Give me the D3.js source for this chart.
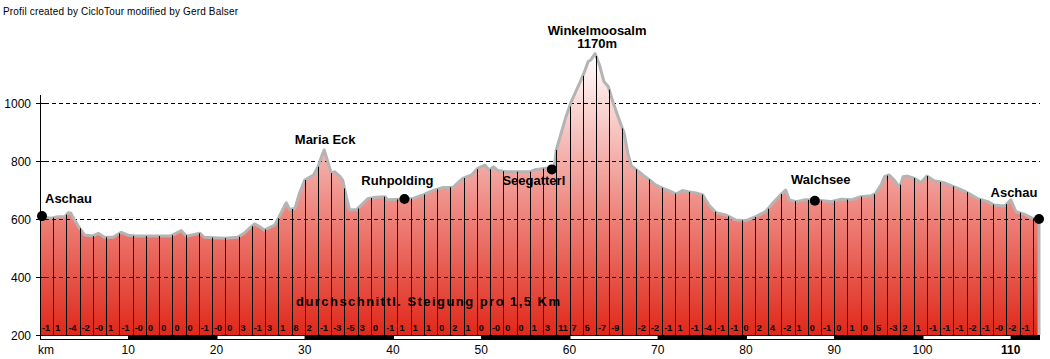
<!DOCTYPE html>
<html><head><meta charset="utf-8">
<script src="https://cdn.jsdelivr.net/npm/d3@7"></script>
<style>
html,body{margin:0;padding:0;background:#fff;}
svg{display:block;font-family:Arial,"Liberation Sans",sans-serif;}
</style></head>
<body><svg id="c" width="1050" height="359"></svg>
<script>
// ---- data ----
const profileKm = [0,0.5,1.25,2.0,2.8,3.2,3.5,3.9,4.5,5.05,6.0,6.6,7.3,8.3,9.2,10.0,10.7,14.8,16.0,16.6,18.1,18.6,20.9,22.4,23.2,24.3,24.9,25.4,26.6,27.1,27.9,28.3,28.9,29.4,30.0,31.0,31.5,31.9,32.2,32.5,33.0,33.4,34.0,34.3,34.7,35.1,35.9,36.4,37.2,38.1,39.1,39.4,40.8,42.3,43.4,44.5,45.7,46.8,47.9,48.9,49.6,50.4,50.9,51.4,51.9,52.8,55.5,56.2,57.4,58.0,58.3,58.5,59.1,59.6,60.2,60.8,61.3,61.7,62.1,62.4,62.9,63.4,63.9,64.4,64.9,65.7,66.2,66.6,67.0,67.6,68.3,69.1,69.8,70.6,71.5,72.1,72.8,73.4,74.3,75.1,75.8,76.6,77.7,78.8,80.0,81.1,82.2,83.2,83.9,84.5,84.9,85.7,86.6,87.7,88.7,89.6,90.8,91.9,93.0,94.2,94.7,95.3,95.7,96.2,96.8,97.4,97.8,98.3,99.1,99.8,100.5,101.3,102.4,103.6,104.9,106.2,107.4,108.1,109.3,110.0,110.6,111.5,112.5,113.2];
const profileEle = [610,606,603,608,608,622,620,597,568,545,541,551,537,537,554,544,541,541,560,541,551,537,534,537,553,583,573,562,579,608,656,633,637,689,734,752,780,815,838,809,758,763,746,734,677,631,633,648,671,675,677,666,668,671,683,698,709,709,740,752,775,786,769,780,767,763,763,771,775,776,786,838,901,953,1005,1045,1079,1108,1142,1148,1170,1131,1074,1056,1005,936,896,827,783,769,752,734,717,706,694,686,698,694,690,683,648,622,614,597,594,608,625,660,683,700,666,660,666,666,663,660,668,666,677,680,689,717,746,752,734,709,746,748,740,726,748,732,725,711,694,671,660,648,645,666,625,617,602,600];
const gradeLabels = ["-1","1","-4","-2","-0","1","-1","-0","0","0","0","0","-1","-0","0","3","-1","3","1","8","2","-1","-3","-5","3","0","-1","1","1","1","0","2","1","0","-0","0","0","1","3","11","7","5","-7","-9","","-2","-2","-1","1","-1","-4","-1","-1","0","2","4","-2","1","0","-1","0","1","0","5","-3","2","1","-1","-1","-1","-2","-1","-0","-2","-1"];
const placeNames = ["Aschau","Maria Eck","Ruhpolding","Seegatterl","Winkelmoosalm","Walchsee","Aschau"];
const placeKm    = [0, 32.2, 41.3, 58.0, 62.9, 87.8, 113.2];
const placeEle   = [610, 838, 669, 771, 1170, 663, 600];
const placeDot   = [true, false, true, true, false, true, true];
const yTicks = [200,400,600,800,1000];
const kmTicks = [10,20,30,40,50,60,70,80,90,100,110];
const segmentKm = 1.5;
const totalKm = 113.2;
const titleText = "Profil created by CicloTour modified by Gerd Balser";
const gradeTitle = "durchschnittl. Steigung pro 1,5 Km";

// ---- layout ----
const svg = d3.select("#c");
const x = d3.scaleLinear().domain([0,totalKm]).range([40,1039]);
const y = d3.scaleLinear().domain([200,1000]).range([335,103]);
const pts = profileKm.map((k,i)=>[k,profileEle[i]]);
const eleAt = k => {
  const i = d3.bisector(d=>d[0]).right(pts,k);
  if(i<=0) return pts[0][1];
  if(i>=pts.length) return pts[pts.length-1][1];
  const a=pts[i-1], b=pts[i];
  return a[1]+(b[1]-a[1])*(k-a[0])/(b[0]-a[0]);
};

const defs = svg.append("defs");
const g = defs.append("linearGradient").attr("id","fillg").attr("gradientUnits","userSpaceOnUse")
  .attr("x1",0).attr("x2",0).attr("y1",y(1170)).attr("y2",y(200));
g.append("stop").attr("offset","0").attr("stop-color","#ffffff");
g.append("stop").attr("offset","1").attr("stop-color","#e0281a");

// title
svg.append("text").attr("x",3).attr("y",15).attr("font-size","10px").attr("fill","#000")
  .attr("textLength",235).attr("lengthAdjust","spacing").text(titleText);

// area
const area = d3.area().x(d=>x(d[0])).y0(y(200)).y1(d=>y(d[1]));
svg.append("path").datum(pts).attr("d",area).attr("fill","url(#fillg)");

// gridlines (on top of fill)
yTicks.filter(t=>t>200).forEach(t=>{
  svg.append("line").attr("x1",45).attr("x2",1040).attr("y1",y(t)+0.5).attr("y2",y(t)+0.5)
    .attr("stroke","#000").attr("stroke-width",1).attr("stroke-dasharray","4,3");
});

// profile border
const line = d3.line().x(d=>x(d[0])).y(d=>y(d[1]));
svg.append("path").datum(pts.concat([[totalKm,200]])).attr("d",line)
  .attr("fill","none").attr("stroke","#b4b4b4").attr("stroke-width",3).attr("stroke-linejoin","round");

// segment lines
const nSeg = Math.floor(totalKm/segmentKm);
for(let i=1;i<=nSeg;i++){
  const k=i*segmentKm;
  svg.append("line").attr("x1",Math.round(x(k))+0.5).attr("x2",Math.round(x(k))+0.5)
    .attr("y1",y(200)).attr("y2",y(eleAt(k))).attr("stroke","#000").attr("stroke-width",1);
}

// grade labels
gradeLabels.forEach((t,i)=>{
  svg.append("text").attr("x",x(i*segmentKm)+2).attr("y",331).attr("font-size","9px")
    .attr("font-weight","bold").attr("fill","#000").text(t);
});
svg.append("text").attr("x",296).attr("y",306).attr("font-size","13px").attr("font-weight","bold")
  .attr("textLength",264).attr("lengthAdjust","spacing").text(gradeTitle);

// y axis
svg.append("line").attr("x1",40.5).attr("x2",40.5).attr("y1",95).attr("y2",335).attr("stroke","#000");
yTicks.forEach(t=>{
  svg.append("line").attr("x1",36).attr("x2",45).attr("y1",y(t)+0.5).attr("y2",y(t)+0.5).attr("stroke","#000");
  svg.append("text").attr("x",31).attr("y",y(t)+4.5).attr("text-anchor","end").attr("font-size","12px").text(t);
});

// km bar
for(let d=0; d<totalKm; d+=10){
  const k2=Math.min(d+10,totalKm);
  const black = (d/10)%2===1;
  svg.append("rect").attr("x",x(d)+0.5).attr("y",335.5).attr("width",x(k2)-x(d)).attr("height",4)
    .attr("fill",black?"#000":"#fff").attr("stroke","#000").attr("stroke-width",1);
}
svg.append("text").attr("x",38).attr("y",354).attr("font-size","12px").text("km");
kmTicks.forEach(k=>{
  svg.append("text").attr("x",x(k)).attr("y",354).attr("text-anchor","middle").attr("font-size","12px")
    .attr("font-weight",k===110?"bold":"normal").text(k);
});

// places
const labelOff = [[5,-13,"start"],[1,-6,"middle"],[-7,-14,"middle"],[-18,16,"middle"],[2,-19,"middle"],[6,-17,"middle"],[-25,-22,"middle"]];
placeNames.forEach((n,i)=>{
  const px=x(placeKm[i]), py=y(placeEle[i]);
  if(placeDot[i]) svg.append("circle").attr("cx",px+ (i===0?2:0)).attr("cy",py).attr("r",5).attr("fill","#000");
  const o=labelOff[i];
  svg.append("text").attr("x",px+o[0]).attr("y",py+o[1]).attr("text-anchor",o[2])
    .attr("font-size","13px").attr("font-weight","bold").text(n);
  if(n==="Winkelmoosalm"){
    svg.append("text").attr("x",px+o[0]).attr("y",py+o[1]+13).attr("text-anchor","middle")
      .attr("font-size","13px").attr("font-weight","bold").text(placeEle[i]+"m");
  }
});
</script></body></html>
